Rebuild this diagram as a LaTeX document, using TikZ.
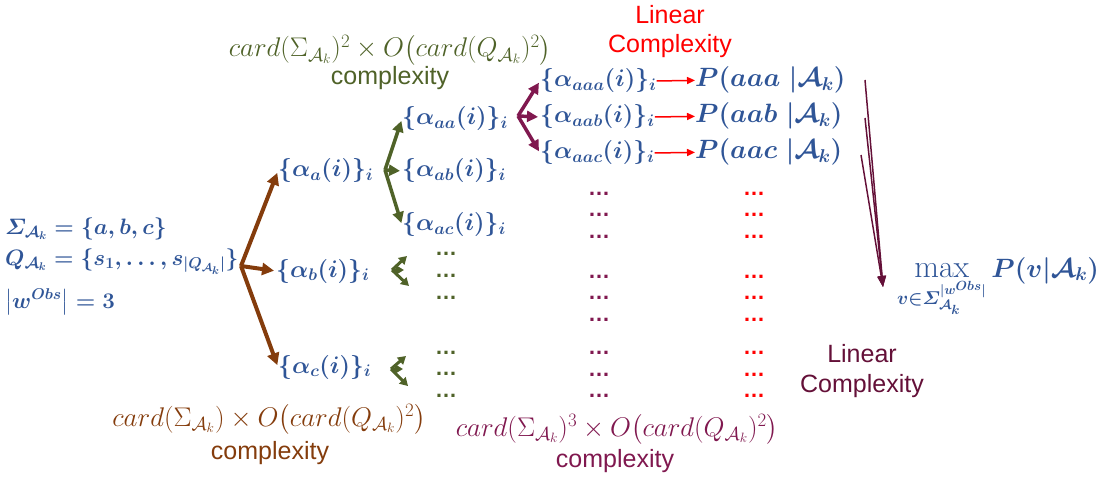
\RequirePackage{fix-cm}
\documentclass[tikz,border=0pt]{standalone}
\usepackage{amsmath}
\usepackage{fontspec}
\newfontfamily\arialfont{Liberation Sans}
\usetikzlibrary{arrows.meta}
\definecolor{cblue}{HTML}{2F5597}
\definecolor{cbrown}{HTML}{843C0C}
\definecolor{cgreen}{HTML}{4F6228}
\definecolor{cmaroon}{HTML}{80184F}
\definecolor{cdark}{HTML}{641038}
\definecolor{cred}{HTML}{FF0000}
\begin{document}
\begin{tikzpicture}[x=1pt,y=-1pt,
  bm/.style={text=cblue,font=\boldmath\fontsize{24}{28}\selectfont,inner sep=0pt,anchor=base west},
  bmleft/.style={bm,font=\boldmath\fontsize{22.3}{26}\selectfont},
  bmp/.style={bm,font=\boldmath\fontsize{26.5}{28}\selectfont},
  sans/.style={font=\arialfont\fontsize{25}{29}\selectfont,inner sep=0pt,anchor=base},
  cardlbl/.style={font=\fontsize{27}{31}\selectfont,inner sep=0pt,anchor=base},
  dts/.style={font=\arialfont\bfseries\fontsize{22}{24}\selectfont,inner sep=0pt,anchor=base west},
  brarr/.style={draw=cbrown,line width=4pt,-{Triangle[length=12pt,width=12pt]},shorten >=2pt},
  grarr/.style={draw=cgreen,line width=3.5pt,-{Triangle[length=11pt,width=11pt]},shorten >=2pt},
  mrarr/.style={draw=cmaroon,line width=3.5pt,-{Triangle[length=11pt,width=11pt]},shorten >=2pt},
  rdarr/.style={draw=cred,line width=1.5pt,-{Triangle[length=8pt,width=7pt]}},
  dkarr/.style={draw=cdark,line width=1.5pt,-{Triangle[length=11pt,width=8pt]}},
  tinyarr/.style={draw=cgreen,line width=3pt,-{Triangle[length=8pt,width=9pt]}},
]
\useasboundingbox (0,0) rectangle (1115,478);

% left block
\node[bmleft] (l1) at (5,234) {$\varSigma_{\mathcal{A}_k} = \{a, b, c\}$};
\node[bmleft] (l2) at (5,265) {$Q_{\mathcal{A}_k} = \{s_1, \ldots, s_{|Q_{\mathcal{A}_k}|}\}$};
\node[bmleft] (l3) at (5,308) {$\bigl|w^{Obs}\bigr| = 3$};

% level 1
\node[bm] (na) at (278,177) {$\{\alpha_a(i)\}_i$};
\node[bm] (nb) at (276,277) {$\{\alpha_b(i)\}_i$};
\node[bm] (nc) at (278,373) {$\{\alpha_c(i)\}_i$};

% level 2
\node[bm] (naa) at (402,125) {$\{\alpha_{aa}(i)\}_i$};
\node[bm] (nab) at (402,177) {$\{\alpha_{ab}(i)\}_i$};
\node[bm] (nac) at (402,231) {$\{\alpha_{ac}(i)\}_i$};

% level 3
\node[bm] (naaa) at (540,87) {$\{\alpha_{aaa}(i)\}_i$};
\node[bm] (naab) at (540,123) {$\{\alpha_{aab}(i)\}_i$};
\node[bm] (naac) at (540,159) {$\{\alpha_{aac}(i)\}_i$};

% probabilities
\node[bmp] (paaa) at (695,87) {$P(aaa\;|\mathcal{A}_k)$};
\node[bmp] (paab) at (695,123) {$P(aab\;|\mathcal{A}_k)$};
\node[bmp] (paac) at (695,159) {$P(aac\;|\mathcal{A}_k)$};

% max
\node[bm,font=\boldmath\fontsize{26.5}{30}\selectfont] (mx) at (897,277) {$\mathop{\text{\fontsize{32}{32}\selectfont max}}\limits_{v\in\varSigma_{\mathcal{A}_k}^{|w^{Obs}|}} P(v|\mathcal{A}_k)$};

% labels
\node[cardlbl,text=cgreen] (gl) at (390,57) {$card(\Sigma_{\mathcal{A}_k})^2 \times O\bigl(card(Q_{\mathcal{A}_k})^2\bigr)$};
\node[sans,text=cgreen] (gc) at (390,85) {complexity};
\node[cardlbl,text=cbrown] (bl) at (269,426) {$card(\Sigma_{\mathcal{A}_k}) \times O\bigl(card(Q_{\mathcal{A}_k})^2\bigr)$};
\node[sans,text=cbrown] (bc) at (270,459) {complexity};
\node[cardlbl,text=cmaroon] (ml) at (617,436) {$card(\Sigma_{\mathcal{A}_k})^3 \times O\bigl(card(Q_{\mathcal{A}_k})^2\bigr)$};
\node[sans,text=cmaroon] (mc) at (615,467) {complexity};
\node[sans,text=cred] (rl1) at (670,24) {Linear};
\node[sans,text=cred] (rl2) at (670,53) {Complexity};
\node[sans,text=cdark] (dl1) at (862,362) {Linear};
\node[sans,text=cdark] (dl2) at (862,392) {Complexity};

% dots
\foreach \y [count=\k] in {255,277,299}{\node[dts,text=cgreen] (gdb\k) at (435,\y) {…};}
\foreach \y [count=\k] in {354,375,397}{\node[dts,text=cgreen] (gdc\k) at (435,\y) {…};}
\foreach \y [count=\k] in {196,217,239,278,299,321,354,376,397}{
  \node[dts,text=cmaroon] (md\k) at (588,\y) {…};
  \node[dts,text=cred] (rd\k) at (743,\y) {…};
}

% forks
\coordinate (fb) at (241,266);
\draw[brarr] (fb) -- (na.west);
\draw[brarr] (fb) -- (nb.west);
\draw[brarr] (fb) -- (nc.west);

\coordinate (ga) at (385,170);
\draw[grarr] (ga) -- (naa.west);
\draw[grarr] (ga) -- (nab.west);
\draw[grarr] (ga) -- (nac.west);

\coordinate (ma) at (518,116);
\draw[mrarr] (ma) -- (naaa.west);
\draw[mrarr] (ma) -- (naab.west);
\draw[mrarr] (ma) -- (naac.west);

\draw[rdarr] (naaa.east) -- (paaa.west);
\draw[rdarr] (naab.east) -- (paab.west);
\draw[rdarr] (naac.east) -- (paac.west);

% tiny green forks
\coordinate (tb) at (392,270);
\coordinate (tb1) at (407,256);
\coordinate (tb2) at (404,270);
\coordinate (tb3) at (409,286);
\draw[tinyarr] (tb) -- (tb1);
\draw[tinyarr] (tb) -- (tb2);
\draw[tinyarr] (tb) -- (tb3);
\coordinate (tc) at (391,369);
\coordinate (tc1) at (406,356);
\coordinate (tc2) at (403,369);
\coordinate (tc3) at (408,386);
\draw[tinyarr] (tc) -- (tc1);
\draw[tinyarr] (tc) -- (tc2);
\draw[tinyarr] (tc) -- (tc3);

% lines to max
\coordinate (s1) at (865,80);
\coordinate (s2) at (865,118);
\coordinate (s3) at (861,155);
\coordinate (mt) at (883,287);
\draw[dkarr] (s1) -- (mt);
\draw[dkarr] (s2) -- (mt);
\draw[dkarr] (s3) -- (mt);
\end{tikzpicture}
\end{document}
